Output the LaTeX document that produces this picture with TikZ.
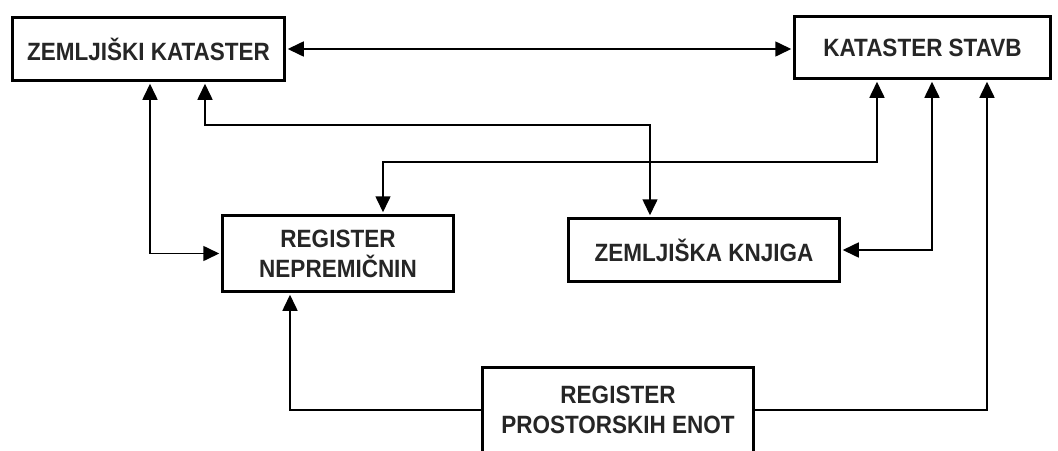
\documentclass[tikz,border=0pt]{standalone}
\usepackage{fontspec}
\newfontfamily\boxfont[FakeStretch=0.9]{Liberation Sans}
\usetikzlibrary{arrows.meta}
\begin{document}
\begin{tikzpicture}[x=1pt,y=-1pt,
  regbox/.style={draw=black, line width=3.5pt, fill=white, inner sep=0pt,
    align=center, font=\boxfont\bfseries\fontsize{25}{30}\selectfont, text=black!85},
  link/.style={draw=black, line width=1.6pt,
    {Triangle[length=16pt,width=15pt]}-{Triangle[length=16pt,width=15pt]}, shorten <=1.5pt, shorten >=1.5pt},
  feed/.style={draw=black, line width=1.6pt, -{Triangle[length=16pt,width=15pt]}, shorten >=1.5pt}]
\useasboundingbox[fill=white] (0,0) rectangle (1058,450);

% registers
\node[regbox, minimum width=272pt, minimum height=63pt] (zk) at (148.5,49) {ZEMLJIŠKI KATASTER};
\node[regbox, minimum width=256pt, minimum height=62pt] (ks) at (922.5,47.5) {KATASTER STAVB};
\node[regbox, minimum width=231pt, minimum height=76pt] (rn) at (338,253.5) {REGISTER\\NEPREMIČNIN};
\node[regbox, minimum width=271pt, minimum height=63pt] (zkn) at (704,250) {ZEMLJIŠKA KNJIGA};
\node[regbox, minimum width=271pt, minimum height=85pt] (rpe) at (618,410) {REGISTER\\PROSTORSKIH ENOT};

% routing columns and bends
\coordinate (c1) at (150,0);
\coordinate (c2) at (205,0);
\coordinate (c5) at (932,0);
\coordinate (c6) at (290,0);
\coordinate (c7) at (987,0);
\coordinate (r1) at (650,125);
\coordinate (r2) at (877,162);
\coordinate (r3) at (383,162);

% connections
\draw[link] (zk.east) -- (zk.east -| ks.west);
\draw[link] (zk.south -| c1) |- (rn.west);
\draw[link] (zk.south -| c2) |- (r1) -- (r1 |- zkn.north);
\draw[link] (ks.south -| r2) |- (r3) -- (r3 |- rn.north);
\draw[link] (ks.south -| c5) |- (zkn.east);
\draw[feed] (rpe.west) -| (rn.south -| c6);
\draw[feed] (rpe.east) -| (ks.south -| c7);
\end{tikzpicture}
\end{document}
